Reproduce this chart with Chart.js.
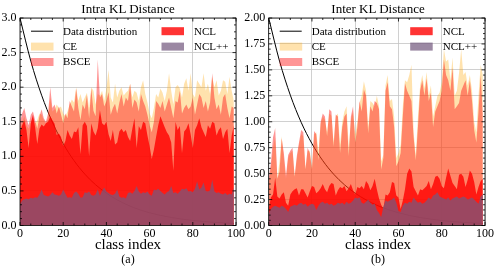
<!DOCTYPE html>
<html>
<head>
<meta charset="utf-8">
<script src="https://cdn.jsdelivr.net/npm/chart.js@4/dist/chart.umd.min.js"></script>
<style>
  html, body { margin: 0; padding: 0; background: #fff; }
  body { width: 498px; height: 272px; position: relative; overflow: hidden; font-family: "Liberation Serif", "DejaVu Serif", serif; }
  canvas { position: absolute; top: 0; }
  .txt { position: absolute; text-align: center; color: #000; white-space: nowrap; font-family: "Liberation Serif", serif; }
</style>
</head>
<body>
<canvas id="c1" width="249" height="272" style="left:0px"></canvas>
<canvas id="c2" width="254" height="272" style="left:244px"></canvas>
<div class="txt" style="left:0px;width:256px;top:1px;font-size:13px;line-height:15px;">Intra KL Distance</div>
<div class="txt" style="left:250px;width:256px;top:1px;font-size:13px;line-height:15px;">Inter KL Distance</div>
<div class="txt" style="left:0px;width:256px;top:236px;font-size:15px;line-height:17px;">class index</div>
<div class="txt" style="left:250px;width:256px;top:236px;font-size:15px;line-height:17px;">class index</div>
<div class="txt" style="left:0px;width:256px;top:252px;font-size:12px;line-height:14px;">(a)</div>
<div class="txt" style="left:250px;width:256px;top:252px;font-size:12px;line-height:14px;">(b)</div>
<script>
// ---------- data ----------
const classes = Array.from({length: 100}, (_, i) => i);
const distClasses = [0,5,10,15,20,25,30,35,40,45,50,55,60,65,70,75,80,85,90,95,99];
const seriesNames = ['Data distribution', 'CE', 'BSCE', 'NCL', 'NCL++'];
const xTicks = [0, 20, 40, 60, 80, 100];
const intraTicks = [0.0, 0.5, 1.0, 1.5, 2.0, 2.5, 3.0];
const interTicks = [0.00, 0.25, 0.50, 0.75, 1.00, 1.25, 1.50, 1.75, 2.00];

// Intra KL distance (a)
const intraDist = [3.000,2.377,1.884,1.493,1.183,0.938,0.743,0.589,0.467,0.370,0.293,0.232,0.184,0.146,0.116,0.092,0.073,0.058,0.046,0.036,0.030];
const intraCE = [1.40,1.50,1.58,1.45,1.40,1.50,1.55,1.48,1.52,1.62,
  1.60,1.52,1.48,1.55,1.85,1.65,1.68,1.75,1.70,1.72,
  1.62,1.58,1.65,1.75,1.82,1.78,2.00,1.80,1.90,1.78,
  1.85,1.92,1.70,2.00,1.95,1.75,1.90,1.88,1.95,1.80,
  1.98,2.25,1.85,1.78,2.05,1.85,1.95,2.00,1.88,1.92,
  1.95,2.05,1.85,1.95,1.92,1.80,2.00,2.10,1.90,1.78,
  1.62,1.55,1.70,1.90,1.85,1.98,1.92,1.80,1.95,2.20,
  1.95,1.75,2.00,2.03,1.98,1.85,2.05,2.13,1.95,2.20,
  1.90,1.85,2.10,2.05,2.00,2.20,1.95,2.05,1.90,2.15,
  2.00,2.10,1.88,1.95,2.10,2.08,1.90,2.15,1.95,1.80];
const intraBSCE = [1.50,1.62,1.70,1.55,1.45,1.60,1.65,1.52,1.40,1.58,
  1.68,1.55,1.50,1.62,2.00,1.70,1.75,1.62,1.72,1.60,
  1.48,1.62,1.55,1.80,1.72,1.65,1.98,1.70,1.52,1.75,
  1.68,1.89,1.55,1.98,1.66,1.58,2.40,1.85,1.90,1.72,
  1.80,1.93,1.60,1.70,1.76,1.62,1.78,1.90,1.72,1.85,
  1.80,2.05,1.70,1.82,1.78,1.65,1.90,1.80,1.72,1.60,
  1.45,1.35,1.50,1.80,1.76,1.70,1.80,1.65,1.75,1.85,
  1.70,1.55,1.80,1.78,1.95,1.62,1.70,1.75,1.68,1.72,
  1.85,1.60,1.75,1.90,1.85,1.70,1.80,1.65,1.78,2.20,
  1.85,1.68,1.75,1.60,1.85,1.90,1.70,1.55,1.72,1.70];
const intraNCL = [1.36,1.45,1.52,1.38,1.12,1.48,1.60,1.42,1.18,1.40,
  1.46,1.43,1.48,1.50,1.58,1.52,1.47,1.31,1.33,1.28,
  1.15,1.22,1.38,1.30,1.25,1.36,1.35,1.42,1.03,1.45,
  1.50,1.44,1.00,1.48,1.36,1.30,1.41,1.67,1.48,1.45,
  1.50,1.32,1.22,1.38,1.17,1.20,1.36,1.40,1.35,1.38,
  1.28,1.22,1.40,1.55,1.12,1.44,1.38,1.50,1.48,1.30,
  1.15,0.96,1.10,1.28,1.45,1.58,1.50,1.42,1.35,1.30,
  1.20,0.79,1.50,1.38,1.44,1.05,1.36,1.40,1.48,1.32,
  1.12,1.38,1.45,1.55,1.42,1.35,1.28,1.45,1.40,1.50,
  1.48,1.30,1.38,1.42,1.25,1.35,1.40,1.05,1.30,1.45];
const intraNCLpp = [0.31,0.36,0.38,0.39,0.38,0.40,0.39,0.41,0.40,0.45,
  0.52,0.44,0.43,0.42,0.44,0.48,0.45,0.44,0.43,0.45,
  0.52,0.46,0.40,0.41,0.40,0.47,0.49,0.46,0.40,0.41,
  0.48,0.47,0.49,0.44,0.43,0.45,0.52,0.43,0.50,0.55,
  0.49,0.47,0.45,0.44,0.46,0.52,0.42,0.40,0.41,0.39,
  0.47,0.48,0.46,0.50,0.57,0.49,0.46,0.48,0.47,0.49,
  0.45,0.43,0.52,0.51,0.53,0.50,0.47,0.45,0.48,0.50,
  0.57,0.47,0.48,0.46,0.49,0.53,0.52,0.54,0.49,0.50,
  0.48,0.53,0.64,0.52,0.55,0.62,0.50,0.49,0.51,0.66,
  0.49,0.47,0.48,0.46,0.45,0.47,0.44,0.46,0.45,0.55];

// Inter KL distance (b)
const interDist = [2.000,1.585,1.256,0.995,0.789,0.625,0.495,0.393,0.311,0.247,0.195,0.155,0.123,0.097,0.077,0.061,0.048,0.038,0.030,0.024,0.020];
const interCE = [0.40,0.55,0.75,0.85,0.45,0.62,0.86,0.65,0.45,0.65,
  0.70,0.72,0.48,0.64,0.78,0.88,0.86,0.55,0.72,0.72,
  0.56,0.88,0.90,0.72,0.98,1.05,1.02,0.90,1.08,1.06,
  0.80,1.05,1.08,0.78,1.00,1.10,1.15,0.75,1.02,1.10,
  0.88,1.00,1.18,1.25,1.39,1.30,0.95,1.20,1.18,1.15,
  1.25,1.15,0.62,0.68,1.35,1.45,1.20,1.22,1.05,0.65,
  0.70,0.78,1.15,1.40,1.38,1.45,1.55,0.90,0.68,1.05,
  1.35,1.45,1.32,1.48,1.25,1.35,1.05,1.15,1.25,1.28,
  1.38,1.70,1.58,1.60,1.40,1.62,1.25,1.30,1.47,1.70,
  1.45,1.48,1.35,1.45,1.30,1.00,0.90,1.25,1.55,1.45];
const interBSCE = [0.45,0.60,0.85,0.94,0.45,0.52,0.84,0.70,0.48,0.68,
  0.72,0.75,0.47,0.67,0.80,0.92,0.90,0.54,0.75,0.70,
  0.54,0.91,0.88,0.63,1.00,1.08,1.05,0.86,1.12,1.10,
  0.76,1.07,1.05,0.70,0.95,1.05,1.08,0.67,1.05,1.15,
  0.80,0.95,1.20,1.10,1.31,1.25,0.89,1.15,1.10,1.20,
  1.18,1.12,0.54,0.65,1.30,1.38,1.15,1.12,0.95,0.57,
  0.62,0.70,1.05,1.37,1.30,1.25,1.20,0.85,0.63,0.95,
  1.30,1.40,1.25,1.42,1.20,1.28,0.95,1.10,1.15,1.20,
  1.30,1.60,1.45,1.40,1.30,1.52,1.12,1.15,1.18,1.30,
  1.35,1.40,1.25,1.40,1.20,0.92,0.80,1.10,1.45,1.07];
const interNCL = [0.16,0.27,0.30,0.46,0.28,0.26,0.30,0.32,0.22,0.19,
  0.30,0.33,0.35,0.36,0.29,0.35,0.35,0.31,0.27,0.33,
  0.38,0.37,0.31,0.33,0.36,0.40,0.35,0.32,0.38,0.41,
  0.40,0.29,0.34,0.37,0.36,0.38,0.33,0.36,0.40,0.34,
  0.30,0.37,0.36,0.38,0.35,0.43,0.40,0.34,0.38,0.45,
  0.35,0.26,0.20,0.16,0.30,0.29,0.32,0.42,0.41,0.29,
  0.27,0.16,0.24,0.35,0.50,0.55,0.52,0.37,0.33,0.29,
  0.35,0.34,0.36,0.38,0.43,0.35,0.40,0.47,0.48,0.45,
  0.38,0.36,0.46,0.55,0.48,0.41,0.38,0.35,0.49,0.50,
  0.47,0.37,0.44,0.53,0.50,0.42,0.30,0.37,0.43,0.45];
const interNCLpp = [0.11,0.16,0.18,0.19,0.18,0.17,0.19,0.18,0.16,0.13,
  0.18,0.19,0.20,0.19,0.21,0.22,0.20,0.21,0.18,0.20,
  0.21,0.20,0.15,0.19,0.22,0.23,0.21,0.22,0.20,0.21,
  0.19,0.20,0.22,0.21,0.22,0.20,0.23,0.21,0.22,0.24,
  0.27,0.26,0.27,0.22,0.21,0.23,0.25,0.22,0.20,0.21,
  0.15,0.12,0.08,0.18,0.24,0.23,0.24,0.25,0.27,0.22,
  0.14,0.13,0.19,0.22,0.21,0.23,0.22,0.27,0.24,0.22,
  0.23,0.21,0.22,0.24,0.27,0.25,0.29,0.30,0.32,0.28,
  0.27,0.26,0.25,0.27,0.24,0.26,0.27,0.28,0.26,0.27,
  0.28,0.27,0.25,0.26,0.27,0.25,0.23,0.21,0.28,0.30];

// ---------- styles ----------
const COLORS = {
  'Data distribution': '#000000',
  'CE': 'rgba(255,165,0,0.32)',
  'BSCE': 'rgba(255,20,20,0.45)',
  'NCL': 'rgba(255,0,0,0.8)',
  'NCL++': 'rgba(116,90,128,0.72)'
};
const SERIF = '"Liberation Serif", "Times New Roman", serif';

function pts(xs, ys) { return xs.map((x, i) => ({x: x, y: ys[i]})); }

function areaDs(name, xs, ys, order) {
  return { label: name, data: pts(xs, ys), backgroundColor: COLORS[name],
    borderColor: 'rgba(0,0,0,0)', borderWidth: 0, pointRadius: 0, fill: 'origin',
    tension: 0, order: order };
}

const framePlugin = {
  id: 'frame',
  afterDraw(chart) {
    const o = chart.options.plugins.frame;
    const {ctx, chartArea: a, scales: {x, y}} = chart;
    ctx.save();
    ctx.strokeStyle = '#000';
    ctx.lineWidth = 0.8;
    ctx.beginPath();
    for (let k = 0; k <= 20; k++) {
      const v = k * 5, px = x.getPixelForValue(v), len = (k % 4 === 0) ? 3.5 : 2;
      ctx.moveTo(px, a.bottom); ctx.lineTo(px, a.bottom - len);
      ctx.moveTo(px, a.top); ctx.lineTo(px, a.top + len);
    }
    const n = Math.round(o.ymax / o.yminor);
    for (let k = 0; k <= n; k++) {
      const v = k * o.yminor, py = y.getPixelForValue(v), len = (k % o.per === 0) ? 3.5 : 2;
      ctx.moveTo(a.left, py); ctx.lineTo(a.left + len, py);
      ctx.moveTo(a.right, py); ctx.lineTo(a.right - len, py);
    }
    ctx.stroke();
    ctx.strokeRect(a.left, a.top, a.right - a.left, a.bottom - a.top);
    // legend
    ctx.font = '11px ' + SERIF;
    ctx.textBaseline = 'middle';
    ctx.textAlign = 'left';
    const rows = [13.2, 28.6, 44.0];
    const items = [
      {n: 'Data distribution', c: 0, r: 0, line: true},
      {n: 'CE', c: 0, r: 1}, {n: 'BSCE', c: 0, r: 2},
      {n: 'NCL', c: 1, r: 0}, {n: 'NCL++', c: 1, r: 1}
    ];
    const colX = [11, 141.5], colT = [43, 174];
    items.forEach(it => {
      const yy = a.top + rows[it.r];
      const x0 = a.left + colX[it.c];
      if (it.line) {
        ctx.strokeStyle = '#000'; ctx.lineWidth = 1;
        ctx.beginPath(); ctx.moveTo(x0, yy); ctx.lineTo(x0 + 22, yy); ctx.stroke();
      } else {
        ctx.fillStyle = COLORS[it.n];
        ctx.fillRect(x0, yy - 4, 22.5, 8);
      }
      ctx.fillStyle = '#000';
      ctx.fillText(it.n, a.left + colT[it.c], yy + 0.5);
    });
    ctx.restore();
  }
};

function makeChart(id, dist, ce, bsce, ncl, nclpp, ymax, yminor, dec, yW, padR) {
  return new Chart(document.getElementById(id), {
    type: 'line',
    data: {
      datasets: [
        areaDs('NCL++', classes, nclpp, 1),
        areaDs('NCL', classes, ncl, 2),
        areaDs('BSCE', classes, bsce, 3),
        areaDs('CE', classes, ce, 4),
        { label: 'Data distribution', data: pts(distClasses, dist), borderColor: '#000', borderWidth: 1,
          pointRadius: 0, fill: false, cubicInterpolationMode: 'monotone', order: 10 }
      ]
    },
    options: {
      responsive: false, animation: false, devicePixelRatio: 1,
      layout: { padding: { left: 0, right: padR, top: 18, bottom: 0 } },
      plugins: { legend: { display: false }, tooltip: { enabled: false }, title: { display: false },
        filler: { drawTime: 'beforeDatasetDraw', propagate: false },
        frame: { ymax: ymax, yminor: yminor, per: 5 } },
      scales: {
        x: { type: 'linear', min: 0, max: 100,
          afterBuildTicks: s => { s.ticks = xTicks.map(v => ({value: v})); },
          ticks: { color: '#000', font: { family: SERIF, size: 12 }, padding: 1, maxRotation: 0, autoSkip: false },
          grid: { color: '#c4c4c4', lineWidth: 0.8, drawTicks: false },
          border: { display: false },
          afterFit: s => { s.height = 46.5; } },
        y: { type: 'linear', min: 0, max: ymax,
          afterBuildTicks: s => { s.ticks = (ymax === 3 ? intraTicks : interTicks).map(v => ({value: v})); },
          ticks: { color: '#000', font: { family: SERIF, size: 12 }, padding: 3.5, autoSkip: false,
            callback: v => Number(v).toFixed(dec) },
          grid: { color: '#c4c4c4', lineWidth: 0.8, drawTicks: false },
          border: { display: false },
          afterFit: s => { s.width = yW; } }
      }
    },
    plugins: [framePlugin]
  });
}

makeChart('c1', intraDist, intraCE, intraBSCE, intraNCL, intraNCLpp, 3, 0.1, 1, 20, 13);
makeChart('c2', interDist, interCE, interBSCE, interNCL, interNCLpp, 2, 0.05, 2, 24.7, 13);
</script>
</body>
</html>
